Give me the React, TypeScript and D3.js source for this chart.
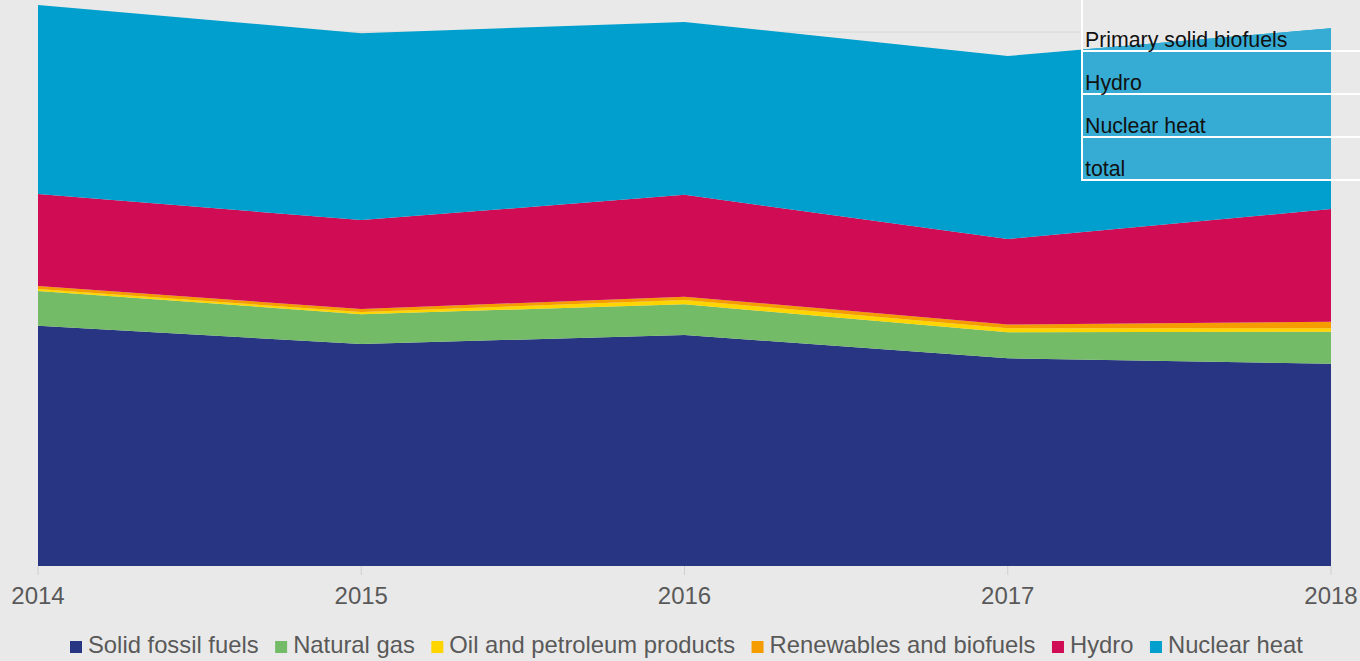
import React, { useEffect, useRef } from 'react';
import * as d3 from 'd3';

// years on the x axis
const years = [2014, 2015, 2016, 2017, 2018];

// series values (stacked, bottom to top)
const solidFossil = [81.0, 74.8, 77.9, 70.0, 68.2];
const naturalGas = [11.7, 10.1, 10.3, 8.8, 10.8];
const oilPetroleum = [0.7, 0.7, 1.5, 1.3, 1.1];
const renewables = [1.0, 1.0, 1.1, 1.3, 2.2];
const hydro = [31.0, 30.0, 34.3, 28.8, 38.0];
const nuclear = [63.7, 63.0, 58.3, 61.7, 61.0];

const seriesNames = [
  'Solid fossil fuels',
  'Natural gas',
  'Oil and petroleum products',
  'Renewables and biofuels',
  'Hydro',
  'Nuclear heat',
];
const seriesColors = ['#283583', '#73bb67', '#ffd500', '#f59c00', '#d00c55', '#009fcd'];

// tooltip rows shown at the top right
const tooltipRows = ['Primary solid biofuels', 'Hydro', 'Nuclear heat', 'total'];

const gridValues = [180];

const W = 1360;
const H = 661;

function App() {
  const svgRef = useRef<SVGSVGElement | null>(null);

  useEffect(() => {
    const svg = d3.select(svgRef.current);
    svg.selectAll('*').remove();

    svg.append('rect').attr('width', W).attr('height', H).attr('fill', '#e9e9e9');

    const x = d3.scalePoint<number>().domain(years).range([38, 1331]);
    const y = d3.scaleLinear().domain([0, 180]).range([566, 32]);

    const allSeries = [solidFossil, naturalGas, oilPetroleum, renewables, hydro, nuclear];
    const rows = years.map((yr, i) => {
      const r: any = { year: yr };
      seriesNames.forEach((n, k) => (r[n] = allSeries[k][i]));
      return r;
    });
    const stacked = d3.stack<any>().keys(seriesNames)(rows);

    // gridline (only visible above the areas)
    svg.append('g')
      .selectAll('line')
      .data(gridValues)
      .join('line')
      .attr('x1', 38)
      .attr('x2', 1082)
      .attr('y1', d => y(d))
      .attr('y2', d => y(d))
      .attr('stroke', '#d6d6d6')
      .attr('stroke-width', 1);

    const area = d3.area<any>()
      .x(d => x(d.data.year) as number)
      .y0(d => y(d[0]))
      .y1(d => y(d[1]));

    svg.append('g')
      .selectAll('path')
      .data(stacked)
      .join('path')
      .attr('fill', (_d, i) => seriesColors[i])
      .attr('d', area as any);

    // x axis ticks and labels
    const axis = svg.append('g');
    axis.selectAll('line')
      .data(years)
      .join('line')
      .attr('x1', d => x(d) as number)
      .attr('x2', d => x(d) as number)
      .attr('y1', 566)
      .attr('y2', 575)
      .attr('stroke', '#cfcfcf');
    axis.selectAll('text')
      .data(years)
      .join('text')
      .attr('x', d => x(d) as number)
      .attr('y', 604)
      .attr('text-anchor', 'middle')
      .attr('font-family', 'Liberation Sans, Arial, sans-serif')
      .attr('font-size', 24)
      .attr('fill', '#595959')
      .text(d => String(d));

    // legend
    const legend = svg.append('g');
    let lx = 70;
    seriesNames.forEach((name, i) => {
      legend.append('rect')
        .attr('x', lx)
        .attr('y', 641)
        .attr('width', 12)
        .attr('height', 12)
        .attr('fill', seriesColors[i]);
      const t = legend.append('text')
        .attr('x', lx + 18)
        .attr('y', 653)
        .attr('font-family', 'Liberation Sans, Arial, sans-serif')
        .attr('font-size', 23.8)
        .attr('fill', '#595959')
        .text(name);
      const w = (t.node() as SVGTextElement).getComputedTextLength();
      lx += 18 + w + 16.5;
    });

    // tooltip: highlighted nuclear area under the box
    svg.append('clipPath')
      .attr('id', 'tipclip')
      .append('rect')
      .attr('x', 1082)
      .attr('y', 0)
      .attr('width', W - 1082)
      .attr('height', 180);
    svg.append('path')
      .datum(stacked[5])
      .attr('clip-path', 'url(#tipclip)')
      .attr('fill', '#36acd4')
      .attr('d', area as any);

    const tip = svg.append('g');
    tip.append('line')
      .attr('x1', 1082).attr('x2', 1082)
      .attr('y1', 0).attr('y2', 181)
      .attr('stroke', '#fff').attr('stroke-width', 2);
    tooltipRows.forEach((label, i) => {
      const bottom = 51 + i * 43;
      tip.append('line')
        .attr('x1', 1082).attr('x2', W)
        .attr('y1', bottom).attr('y2', bottom)
        .attr('stroke', '#fff').attr('stroke-width', 2);
      tip.append('text')
        .attr('x', 1085)
        .attr('y', bottom - 4.5)
        .attr('font-family', 'Liberation Sans, Arial, sans-serif')
        .attr('font-size', 21.3)
        .attr('fill', '#111')
        .text(label);
    });
  }, []);

  return (
    <svg
      ref={svgRef}
      width={W}
      height={H}
      style={{ position: 'absolute', left: 0, top: 0, display: 'block' }}
    />
  );
}

export default App;
